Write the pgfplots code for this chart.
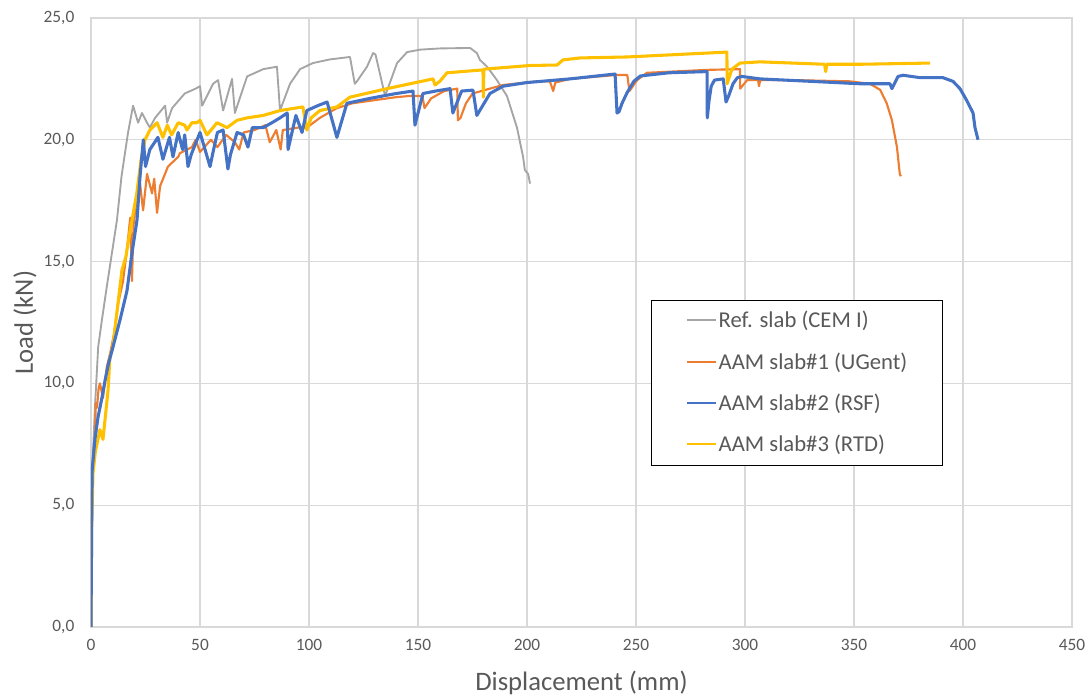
\documentclass[border=0pt]{standalone}
\usepackage{fontspec}
\setmainfont{Carlito}
\usepackage{pgfplots}
\pgfplotsset{compat=1.18}
\definecolor{sgrey}{HTML}{A5A5A5}
\definecolor{sorange}{HTML}{ED7D31}
\definecolor{sblue}{HTML}{4472C4}
\definecolor{syellow}{HTML}{FFC000}
\definecolor{gridc}{HTML}{D9D9D9}
\definecolor{tickc}{HTML}{595959}
\newcommand{\legline}[1]{\textcolor{#1}{\rule[4.8pt]{21.75pt}{1.6pt}}\hspace{2pt}}
\pgfplotstableread{
x y
0 0
0.3 4
0.5 6.4
1.8 7.7
3.2 8.6
5 9.4
6.4 10.1
8 10.8
10.1 11.5
13.3 12.6
16.5 13.8
18.8 15.35
21.1 16.7
22.5 18.5
24 20.0
25 18.9
27 19.6
30.7 20.1
33 19.2
36 20.1
37.6 19.3
40 20.3
42 19.6
43 20.2
44.5 18.9
46 19.4
50 20.3
51 20.0
54.6 18.9
56 19.5
58 20.3
60.6 20.4
62.8 18.8
64 19.4
67 20.3
70 20.2
72 19.7
74 20.5
79 20.5
83 20.7
86.7 20.9
90 21.1
90.4 19.6
92.7 20.5
94 21.0
96.8 20.3
99 21.2
104 21.4
108.3 21.55
112.8 20.1
117.4 21.5
128 21.7
140 21.9
147.7 22.0
148.6 20.6
152.3 21.9
158 22.0
164.7 22.1
166 21.1
170 22.0
175.2 22.04
177 21.0
183 21.9
189 22.2
200 22.35
219.7 22.5
240.4 22.7
241.3 21.1
242.2 21.15
243.6 21.5
246 21.95
249 22.4
252 22.62
265 22.75
282.6 22.8
282.7 20.9
283.5 21.6
284.5 22.2
286 22.45
290 22.5
291.3 21.55
292.5 21.8
294.5 22.3
296.5 22.55
298.6 22.6
306.9 22.5
330 22.4
352.8 22.3
366.5 22.3
367.4 22.1
370.2 22.6
372.5 22.65
380.3 22.55
390.8 22.55
395.4 22.4
398.6 22.1
401.8 21.6
404.6 21.1
405.5 20.5
406.9 20.0
}\rsf
\begin{document}
\begin{tikzpicture}
\useasboundingbox (-68.25pt,-53.25pt) rectangle (747.75pt,470.25pt);
\begin{axis}[
  scale only axis, width=735.75pt, height=456.75pt,
  xmin=0, xmax=450, ymin=0, ymax=25,
  xtick={0,50,...,450}, ytick={0,5,...,25},
  grid=major, grid style={draw=gridc, line width=0.8pt},
  axis line style={draw=gridc, line width=0.8pt},
  major tick length=0pt,
  /pgf/number format/assume math mode=true,
  tick label style={font=\fontsize{13}{15}\selectfont, text=tickc},
  y tick label style={/pgf/number format/fixed, /pgf/number format/fixed zerofill, /pgf/number format/precision=1, /pgf/number format/use comma, xshift=-9pt},
  x tick label style={yshift=-6pt},
  xlabel={Displacement (mm)}, ylabel={Load (kN)},
  label style={font=\fontsize{20}{24}\selectfont, text=tickc},
  x label style={at={(axis description cs:0.5,-0.092)}, anchor=center},
  y label style={at={(axis description cs:-0.0673,0.5)}, anchor=center},
]
% Ref. slab (CEM I)
\addplot[color=sgrey, line width=1.4pt, line join=round] coordinates {
(0,0) (0.2,3) (0.5,5) (0.9,7.1) (1.8,9) (3.3,11.5) (5,12.6) (7.3,14) (9.6,15.35) (11.9,16.7)
(14,18.5) (17,20.3) (19.3,21.4) (21.6,20.7) (23.4,21.1) (25.7,20.7) (27,20.5) (29.4,20.9)
(34,21.4) (34.9,20.7) (37.2,21.3) (43,21.9) (48,22.1) (50,22.2) (51,21.4) (56,22.3) (58.3,22.45)
(60.6,21.2) (64.7,22.5) (66,21.1) (71.6,22.6) (79,22.9) (85.3,23.0) (86.7,21.2) (91.3,22.3)
(95.9,22.9) (101.8,23.15) (109.6,23.3) (118.8,23.4) (121,22.3) (122,22.4) (126.6,23.0)
(129.4,23.56) (130.5,23.5) (134.9,21.8) (140.4,23.15) (145,23.6) (150.9,23.7) (160,23.75)
(173.9,23.77) (177,23.56) (178.4,23.28) (181.7,23.0) (186.2,22.45) (190.8,21.8) (195.4,20.5)
(198.2,19.3) (199,18.76) (200.5,18.6) (201.4,18.2)
};
% AAM slab#1 (UGent)
\addplot[color=sorange, line width=1.6pt, line join=round] coordinates {
(0,0) (0.3,4) (0.6,6.5) (1.2,7.3) (1.8,7.8) (2.2,9.2) (2.75,9.0) (3.5,9.8) (4.1,10.0) (5.5,9.4)
(7.3,10.7) (8.7,11.2) (10.5,12.0) (12.5,13.3) (14.7,14.2) (16.5,15.5) (18,16.8) (18.8,14.2)
(19.5,16.5) (21,17.6) (22.5,18.2) (23.9,17.1) (25.7,18.6) (28,17.8) (29,18.4) (30.3,17.0)
(31.7,18.1) (35.3,18.9) (40,19.3) (40.8,19.45) (46.3,19.7) (48,20.0) (50,19.5) (55,20.0)
(58,19.7) (62,20.2) (66,19.9) (68,19.6) (70,20.3) (75,20.4) (80,20.6) (82,19.9) (85,20.4)
(87,19.6) (88,20.4) (95,20.5) (99,20.5) (105,20.9) (112.8,21.3) (120,21.5) (128,21.6)
(140,21.75) (146.3,21.8) (152,21.8) (153,21.3) (156,21.7) (162,22.0) (168,22.1) (168.3,20.8)
(169.5,20.9) (172,21.5) (175,21.9) (189,22.25) (205,22.4) (210.5,22.4) (212,22.0) (213,22.35) (219.7,22.5)
(241,22.66) (246,22.66) (247,22.0) (250.5,22.45) (255,22.75) (282.6,22.87) (297.7,22.9)
(297.8,22.1) (301,22.45) (306,22.45) (306.4,22.2) (307,22.45) (322,22.45) (348,22.4)
(357.3,22.3) (362,22.05) (365,21.5) (367.4,20.8) (369.7,19.7) (371,18.6) (371.5,18.5)
};
% AAM slab#3 (RTD)
\addplot[color=syellow, line width=2.3pt, line join=round] coordinates {
(0,0) (0.3,4) (0.9,6.3) (2,7.2) (4.1,8.1) (5.5,7.7) (7,9.0) (7.8,9.7) (8.7,11.1) (10,11.5)
(12,13.0) (14.2,14.65) (16,15.2) (18,16.3) (21,17.8) (23,19.2) (24.8,20.0) (27,20.4)
(30.3,20.7) (33,20.1) (35,20.6) (37,20.2) (40,20.7) (43,20.6) (44,20.4) (46.3,20.7)
(48.6,20.7) (50,20.8) (53.2,20.2) (57.8,20.7) (62.4,20.5) (67,20.8) (71.6,20.9) (79,21.0)
(86.7,21.2) (97.2,21.35) (99,20.4) (101,20.9) (105,21.2) (112.8,21.35) (118.8,21.75)
(135.8,22.1) (156.9,22.5) (157.8,22.25) (160,22.4) (163.3,22.75) (179.8,22.87) (180,21.75)
(180.2,22.9) (201.4,23.05) (213.8,23.07) (216.5,23.28) (224.3,23.36) (246,23.4) (291.7,23.6)
(291.8,22.3) (294,22.9) (297.7,23.15) (306.9,23.2) (336.5,23.1) (337,22.8) (337.5,23.1)
(352.8,23.1) (384.9,23.15)
};
% AAM slab#2 (RSF), drawn on top as in the reference
\addplot[color=sblue, line width=2.3pt, line join=round] table {\rsf};
% legend box
\node[anchor=north west, draw=black, line width=0.75pt, fill=white, inner xsep=26.5pt, inner ysep=8pt,
  align=left, text=tickc, font=\fontsize{17}{31}\selectfont]
  at (rel axis cs:0.571,0.537)
  {\legline{sgrey}Ref. slab (CEM I)\\
   \legline{sorange}AAM slab\#1 (UGent)\\
   \legline{sblue}AAM slab\#2 (RSF)\\
   \legline{syellow}AAM slab\#3 (RTD)};
\end{axis}
\end{tikzpicture}
\end{document}
